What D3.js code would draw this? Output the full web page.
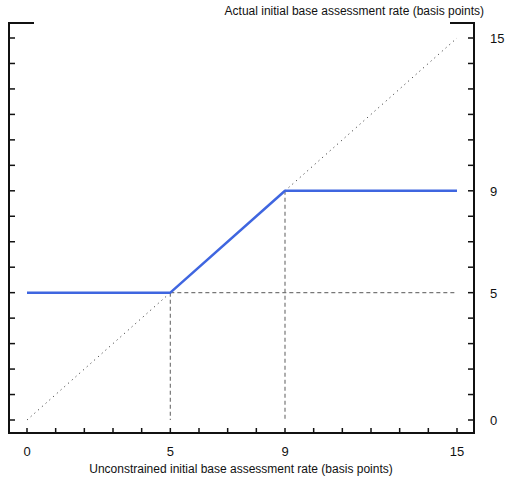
<!DOCTYPE html>
<html>
<head>
<meta charset="utf-8">
<script src="https://cdn.jsdelivr.net/npm/d3@7"></script>
<style>
  html, body { margin: 0; padding: 0; background: #fff; }
  svg { display: block; font-family: "Liberation Sans", Arial, sans-serif; }
</style>
</head>
<body>
<svg id="chart" width="508" height="477"></svg>
<script>
// Assessment-rate floor/cap schedule
const unconstrained = [0, 5, 9, 15];
const actual = [5, 5, 9, 9];
const floorRate = 5;
const capRate = 9;
const xTickLabels = [0, 5, 9, 15];
const yTickLabels = [0, 5, 9, 15];
const xTitle = "Unconstrained initial base assessment rate (basis points)";
const yTitle = "Actual initial base assessment rate (basis points)";

const svg = d3.select("#chart");
const frame = { left: 9, right: 474, top: 23, bottom: 433 };

const x = d3.scaleLinear().domain([0, 15]).range([27, 457]);
const y = d3.scaleLinear().domain([0, 15]).range([420, 38]);

const ink = "#111";

// Minor ticks every unit on all three ticked sides
const ticks = d3.range(0, 16);
const g = svg.append("g");

g.selectAll(".xt").data(ticks).join("line")
  .attr("x1", d => x(d)).attr("x2", d => x(d))
  .attr("y1", frame.bottom).attr("y2", frame.bottom - 5)
  .attr("stroke", ink).attr("stroke-width", 1.5);

g.selectAll(".yl").data(ticks).join("line")
  .attr("x1", frame.left).attr("x2", frame.left + 6)
  .attr("y1", d => y(d)).attr("y2", d => y(d))
  .attr("stroke", ink).attr("stroke-width", 1.5);

g.selectAll(".yr").data(ticks).join("line")
  .attr("x1", frame.right).attr("x2", frame.right - 6)
  .attr("y1", d => y(d)).attr("y2", d => y(d))
  .attr("stroke", ink).attr("stroke-width", 1.5);

// Frame: left/right walls, bottom axis, short top caps
const framePath = d3.path();
framePath.moveTo(frame.left + 25, frame.top);
framePath.lineTo(frame.left, frame.top);
framePath.lineTo(frame.left, frame.bottom);
framePath.lineTo(frame.right, frame.bottom);
framePath.lineTo(frame.right, frame.top);
framePath.lineTo(frame.right - 24, frame.top);
svg.append("path").attr("d", framePath.toString())
  .attr("fill", "none").attr("stroke", ink).attr("stroke-width", 2);

// 45-degree reference line
svg.append("line")
  .attr("x1", x(0)).attr("y1", y(0)).attr("x2", x(15)).attr("y2", y(15))
  .attr("stroke", "#222").attr("stroke-width", 1).attr("stroke-dasharray", "1,4");

// Guide lines at floor and cap
const guide = (x1, y1, x2, y2) => svg.append("line")
  .attr("x1", x(x1)).attr("y1", y(y1)).attr("x2", x(x2)).attr("y2", y(y2))
  .attr("stroke", "#777").attr("stroke-width", 1.2).attr("stroke-dasharray", "4,3");
guide(floorRate, floorRate, floorRate, 0);
guide(capRate, capRate, capRate, 0);
guide(floorRate, floorRate, 15, floorRate);

// Actual rate schedule
const line = d3.line().x((d, i) => x(unconstrained[i])).y(d => y(d));
svg.append("path").datum(actual)
  .attr("d", line)
  .attr("fill", "none").attr("stroke", "#3f66e0").attr("stroke-width", 2.5)
  .attr("stroke-linejoin", "round");

// Tick labels
svg.selectAll(".xlab").data(xTickLabels).join("text")
  .attr("x", d => x(d)).attr("y", 456)
  .attr("text-anchor", "middle").attr("font-size", 13).attr("fill", ink)
  .text(d => d);

svg.selectAll(".ylab").data(yTickLabels).join("text")
  .attr("x", 490).attr("y", d => y(d) + 5)
  .attr("text-anchor", "start").attr("font-size", 13).attr("fill", ink)
  .text(d => d);

// Axis titles
svg.append("text")
  .attr("x", 241).attr("y", 473)
  .attr("text-anchor", "middle").attr("font-size", 12).attr("fill", ink)
  .text(xTitle);

svg.append("text")
  .attr("x", 484).attr("y", 15)
  .attr("text-anchor", "end").attr("font-size", 12).attr("fill", ink)
  .text(yTitle);
</script>
</body>
</html>
